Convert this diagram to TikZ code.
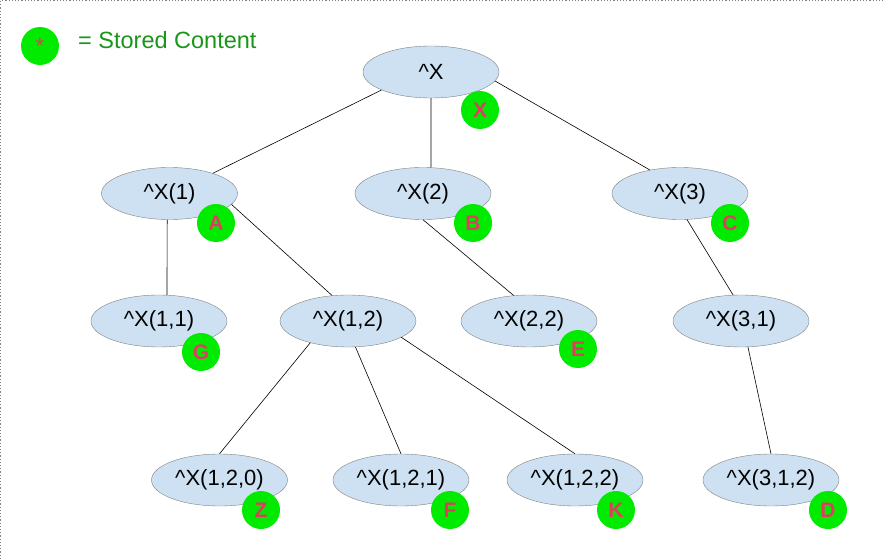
\documentclass[tikz,border=0pt]{standalone}
\usepackage{fontspec}
\setmainfont{Liberation Sans}
\usetikzlibrary{shapes.geometric}
\definecolor{cellblue}{RGB}{205,225,242}
\definecolor{storegreen}{RGB}{0,235,0}
\definecolor{letterred}{RGB}{225,60,95}
\definecolor{legendgreen}{RGB}{25,150,25}
\tikzset{
  state/.style={ellipse, draw=gray, fill=cellblue, minimum width=136pt, minimum height=52pt, inner sep=0pt, font=\fontsize{22}{26}\selectfont},
  stored/.style={circle, fill=storegreen, minimum size=38pt, inner sep=0pt, text=letterred, font=\fontsize{21}{25}\selectfont\bfseries},
  branch/.style={line width=0.6pt}
}

\begin{document}
\begin{tikzpicture}[x=1pt, y=-1pt]
    \useasboundingbox (0,0) rectangle (884,559);
    \draw [gray, dotted, line width=1.2pt] (0.6,559) -- (0.6,0.6) -- (884,0.6);
    \node [stored, font=\fontsize{22}{26}\selectfont] (key) at (40,46) {*};
    \node [anchor=west, inner sep=0pt, text=legendgreen, font=\fontsize{23.5}{28}\selectfont] (keytext) at (78,40.5) {= Stored Content};

    \node [state] (root) at (431,72) {\^{}X};
    \node [state] (x1) at (169.5,193.5) {\^{}X(1)};
    \node [state] (x2) at (423,193.5) {\^{}X(2)};
    \node [state] (x3) at (680,193.5) {\^{}X(3)};
    \node [state] (x11) at (159,321) {\^{}X(1,1)};
    \node [state] (x12) at (348,321) {\^{}X(1,2)};
    \node [state] (x22) at (529,321) {\^{}X(2,2)};
    \node [state] (x31) at (741,321) {\^{}X(3,1)};
    \node [state] (x120) at (219.5,480) {\^{}X(1,2,0)};
    \node [state] (x121) at (401,480) {\^{}X(1,2,1)};
    \node [state] (x122) at (575,480) {\^{}X(1,2,2)};
    \node [state] (x312) at (771,480) {\^{}X(3,1,2)};

    \node [stored] (sx) at (480,110) {X};
    \node [stored] (sa) at (216,223) {A};
    \node [stored] (sb) at (473,223) {B};
    \node [stored] (sc) at (730,223) {C};
    \node [stored] (sg) at (201,352) {G};
    \node [stored] (se) at (578,349) {E};
    \node [stored] (sz) at (261,510) {Z};
    \node [stored] (sf) at (450,510) {F};
    \node [stored] (sk) at (616,510) {K};
    \node [stored] (sd) at (828,510) {D};

    \draw [branch] (root.200) -- (x1.25);
    \draw [branch] (root.south) -- (x2.73);
    \draw [branch] (root.-8) -- (x3.142);
    \draw [branch] (x1.265) -- (x11.73);
    \draw [branch] (x1.-10) -- (x12.122);
    \draw [branch] (x2.270) -- (x22.121);
    \draw [branch] (x3.285) -- (x31.107);
    \draw [branch] (x12.210) -- (x120.90);
    \draw [branch] (x12.286) -- (x121.90);
    \draw [branch] (x12.343) -- (x122.90);
    \draw [branch] (x31.285) -- (x312.90);
\end{tikzpicture}
\end{document}
